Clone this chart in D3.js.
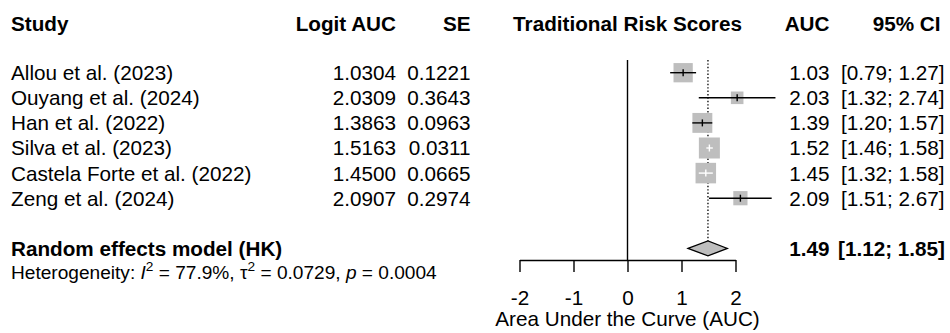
<!DOCTYPE html>
<html><head><meta charset="utf-8">
<script src="https://cdn.jsdelivr.net/npm/d3@7"></script>
<style>
html,body{margin:0;padding:0;background:#fff;}
text{font-family:"Liberation Sans",Arial,sans-serif;fill:#000;}
</style></head>
<body>
<svg id="chart" width="950" height="333"></svg>
<script>
// ---- data ----
const studies = ["Allou et al. (2023)","Ouyang et al. (2024)","Han et al. (2022)","Silva et al. (2023)","Castela Forte et al. (2022)","Zeng et al. (2024)"];
const logitAUC = [1.0304, 2.0309, 1.3863, 1.5163, 1.4500, 2.0907];
const seVals = [0.1221, 0.3643, 0.0963, 0.0311, 0.0665, 0.2974];
const ciLower = [0.79, 1.32, 1.20, 1.46, 1.32, 1.51];
const ciUpper = [1.27, 2.74, 1.57, 1.58, 1.58, 2.67];
const pooled = {est: 1.49, lower: 1.12, upper: 1.85};
const tau2 = 0.0729;
const axisTicks = [-2, -1, 0, 1, 2];
const headers = ["Study", "Logit AUC", "SE", "Traditional Risk Scores", "AUC", "95% CI"];

const svg = d3.select("#chart");
const FS = 20.7, FSH = 19.1;
const x = d3.scaleLinear().domain([-2, 2]).range([519.5, 735.5]);
const row = d3.scaleLinear().domain([0, 1]).range([72.7, 97.8]);
const base = y => y + 7.4;

const weights = seVals.map(s => 1 / (s * s + tau2));
const size = d3.scaleSqrt().domain([0, d3.max(weights)]).range([0, 21]);

// headers
const hy = base(24);
const hdr = svg.append("g").attr("font-weight", "bold").attr("font-size", FS);
hdr.append("text").attr("x", 11).attr("y", hy).text(headers[0]);
hdr.append("text").attr("x", 396).attr("y", hy).attr("text-anchor", "end").text(headers[1]);
hdr.append("text").attr("x", 470.5).attr("y", hy).attr("text-anchor", "end").text(headers[2]);
hdr.append("text").attr("x", x(0)).attr("y", hy).attr("text-anchor", "middle").text(headers[3]);
hdr.append("text").attr("x", 829.5).attr("y", hy).attr("text-anchor", "end").text(headers[4]);
hdr.append("text").attr("x", 940.5).attr("y", hy).attr("text-anchor", "end").text(headers[5]);

// study rows text
const rows = svg.append("g").attr("font-size", FS);
studies.forEach((s, i) => {
  const y = base(row(i));
  rows.append("text").attr("x", 11).attr("y", y).text(s);
  rows.append("text").attr("x", 396).attr("y", y).attr("text-anchor", "end").text(logitAUC[i].toFixed(4));
  rows.append("text").attr("x", 470.5).attr("y", y).attr("text-anchor", "end").text(seVals[i].toFixed(4));
  rows.append("text").attr("x", 829.5).attr("y", y).attr("text-anchor", "end").text(logitAUC[i].toFixed(2));
  rows.append("text").attr("x", 944.5).attr("y", y).attr("text-anchor", "end")
    .text("[" + ciLower[i].toFixed(2) + "; " + ciUpper[i].toFixed(2) + "]");
});

// summary row
const sy = row(7);
const sg = svg.append("g").attr("font-size", FS).attr("font-weight", "bold");
sg.append("text").attr("x", 11).attr("y", base(sy)).text("Random effects model (HK)");
sg.append("text").attr("x", 829.5).attr("y", base(sy)).attr("text-anchor", "end").text(pooled.est.toFixed(2));
sg.append("text").attr("x", 945).attr("y", base(sy)).attr("text-anchor", "end")
  .text("[" + pooled.lower.toFixed(2) + "; " + pooled.upper.toFixed(2) + "]");

// heterogeneity
const het = svg.append("text").attr("x", 11).attr("y", base(272) - 0.8).attr("font-size", FSH);
het.append("tspan").text("Heterogeneity: ");
het.append("tspan").attr("font-style", "italic").text("I");
het.append("tspan").attr("font-size", 13.7).attr("dy", -8).text("2");
het.append("tspan").attr("dy", 8).text(" = 77.9%, \u03c4");
het.append("tspan").attr("font-size", 13.7).attr("dy", -8).text("2");
het.append("tspan").attr("dy", 8).text(" = 0.0729, ");
het.append("tspan").attr("font-style", "italic").text("p");
het.append("tspan").text(" = 0.0004");

// reference lines
const axisY = 260;
svg.append("line").attr("x1", x(0)).attr("x2", x(0)).attr("y1", 60).attr("y2", axisY)
  .attr("stroke", "#000").attr("stroke-width", 1.4);
svg.append("line").attr("x1", x(pooled.est)).attr("x2", x(pooled.est)).attr("y1", 60).attr("y2", sy - 7.5)
  .attr("stroke", "#000").attr("stroke-width", 1.3).attr("stroke-dasharray", "1.4,2");

// squares + CI
const marks = svg.append("g");
studies.forEach((s, i) => {
  const cy = row(i), cx = x(logitAUC[i]), side = size(weights[i]);
  marks.append("rect").attr("x", cx - side / 2).attr("y", cy - side / 2)
    .attr("width", side).attr("height", side).attr("fill", "#bebebe");
  const lo = x(ciLower[i]), hi = x(ciUpper[i]);
  const inside = lo >= cx - side / 2 && hi <= cx + side / 2;
  const col = inside ? "#fff" : "#000";
  marks.append("line").attr("x1", lo).attr("x2", hi).attr("y1", cy).attr("y2", cy)
    .attr("stroke", col).attr("stroke-width", 1.4);
  marks.append("line").attr("x1", cx).attr("x2", cx).attr("y1", cy - 3.5).attr("y2", cy + 3.5)
    .attr("stroke", col).attr("stroke-width", 1.4);
});

// diamond
svg.append("path")
  .attr("d", `M${x(pooled.lower)},${sy} L${x(pooled.est)},${sy - 7.5} L${x(pooled.upper)},${sy} L${x(pooled.est)},${sy + 7.5} Z`)
  .attr("fill", "#bebebe").attr("stroke", "#000").attr("stroke-width", 1.2);

// axis
const ax = svg.append("g").attr("transform", `translate(0,${axisY})`)
  .call(d3.axisBottom(x).tickValues(axisTicks).tickSize(12).tickSizeOuter(0).tickPadding(18)
    .tickFormat(d => String(d)));
ax.select(".domain").attr("stroke", "#000").attr("stroke-width", 1.4);
ax.selectAll(".tick line").attr("stroke", "#000").attr("stroke-width", 1.4);
ax.selectAll(".tick text").attr("font-size", FS).attr("font-family", '"Liberation Sans",Arial,sans-serif').attr("fill", "#000");
svg.append("text").attr("x", x(0)).attr("y", 326).attr("text-anchor", "middle").attr("font-size", FS)
  .text("Area Under the Curve (AUC)");
</script>
</body></html>
